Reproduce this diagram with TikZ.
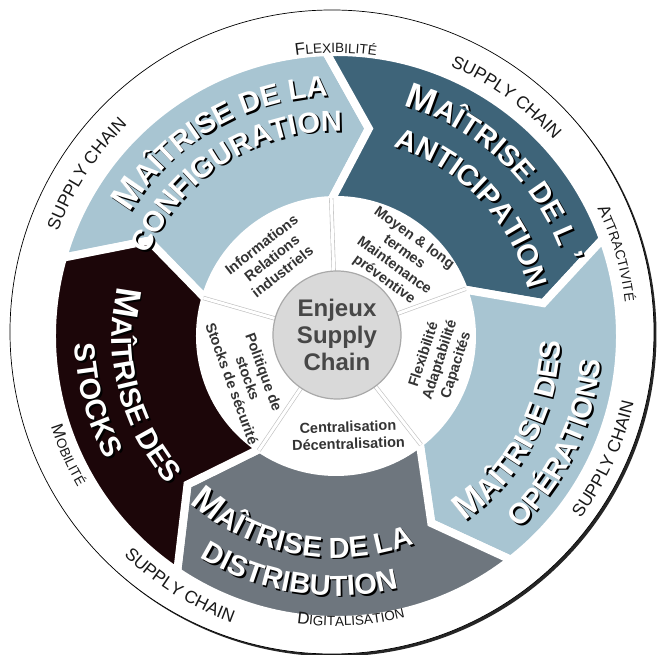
\documentclass[tikz,border=0pt]{standalone}
\usepackage{fontspec}
\setmainfont{Liberation Sans}
\usepackage{xcolor}
\usetikzlibrary{decorations.text}

\definecolor{wlight}{HTML}{A8C5D2}
\definecolor{wteal}{HTML}{3E6479}
\definecolor{wslate}{HTML}{6E767E}
\definecolor{wdark}{HTML}{1C0609}
\definecolor{whub}{HTML}{D9D9D9}
\definecolor{whubline}{HTML}{A9A9A9}
\definecolor{wink}{HTML}{333333}
\definecolor{wdivider}{HTML}{BFBFBF}
\colorlet{tink}{white}
\colorlet{lblink}{black!90}

%% one chevron band of the wheel: #1 first angle, #2 last angle (clockwise), #3 colour
\newcommand{\wheelband}[3]{%
  \filldraw[fill=#3, draw=white, line width=8pt, miter limit=20]
    (#1:284) arc[start angle=#1, end angle=#2, radius=284]
    -- ({#2-11}:210) -- (#2:136)
    arc[start angle=#2, end angle=#1, radius=136]
    -- ({#1-11}:210) -- cycle;}

%% text set on a circle: #1 centre angle, #2 baseline radius, #3 text
\newcommand{\overarc}[3]{%
  \path[decorate, decoration={text along path, text align=center, text={#3}}]
    ({#1+70}:#2) arc[start angle={#1+70}, end angle={#1-70}, radius=#2];}
\newcommand{\underarc}[3]{%
  \path[decorate, decoration={text along path, text align=center, text={#3}}]
    ({#1-70}:#2) arc[start angle={#1-70}, end angle={#1+70}, radius=#2];}

%% white band title with a dark drop shadow
\newcommand{\bandtitle}[4]{%
  \begin{scope}[shift={(1.8,-1.8)}]\colorlet{tink}{black}#1{#2}{#3}{#4}\end{scope}
  \colorlet{tink}{white}#1{#2}{#3}{#4}}

\newcommand{\titleM}{\fontsize{36}{36}\selectfont\bfseries\color{tink}}
\newcommand{\titleS}{\fontsize{29}{29}\selectfont\bfseries\color{tink}}
\newcommand{\lblA}{\fontsize{17.5}{17.5}\selectfont\color{lblink}}
\newcommand{\lblM}{\fontsize{17}{17}\selectfont\color{lblink}}
\newcommand{\lblS}{\fontsize{13.5}{13.5}\selectfont\color{lblink}}

\begin{document}
\begin{tikzpicture}[x=1pt, y=1pt,
  sector/.style={font=\fontsize{14.5}{17}\selectfont\bfseries, text=wink, align=center, inner sep=0pt}]

%% Background
\useasboundingbox (-336,-319) rectangle (321,336);
\fill[white] (-336,-319) rectangle (321,336);

%% Outer disc with its shadow
\fill[black!85] (-1.5,1.5) circle (322);
\filldraw[fill=white, draw=black, line width=0.7pt] (-4,4) circle (322);

%% ── Bands ───────────────────────────────────────────────────────────────
\wheelband{164}{92}{wlight}
\wheelband{92}{20}{wteal}
\wheelband{20}{-52}{wlight}
\wheelband{-52}{-124}{wslate}
\wheelband{-124}{-196}{wdark}

%% ── Inner ring ──────────────────────────────────────────────────────────
\foreach \a in {164,92,20,-52,-124}
  \draw[wdivider, line width=0.6pt, double=white, double distance=3pt] (\a:60) -- (\a:138);

\node[circle, minimum size=128pt, fill=whub, draw=whubline, line width=1.2pt, align=center,
  font=\fontsize{24}{27}\selectfont\bfseries, text=wink!90!white] (hub) at (1,1) {Enjeux\\Supply\\Chain};

\node[sector, rotate=38] (info) at (129.4:101) {Informations\\Relations\\industriels};
\node[sector, rotate=-36] (terme) at (50.7:99.5) {Moyen \& long\\termes\\Maintenance\\préventive};
\node[sector, rotate=72] (flex) at (-13:107) {Flexibilité\\Adaptabilité\\Capacités};
\node[sector, rotate=2] (centr) at (-83:100) {Centralisation\\Décentralisation};
\node[sector, rotate=-70] (polit) at (205.5:97.5) {Politique de\\stocks\\Stocks de sécurité};

%% ── Band titles ─────────────────────────────────────────────────────────
\bandtitle{\overarc}{120.5}{240}{|\titleM|M|\titleS|AÎTRISE DE LA}
\bandtitle{\overarc}{122.5}{205}{|\titleS|CONFIGURATION}
\bandtitle{\overarc}{45.6}{240}{|\titleM|M|\titleS|AÎTRISE DE L ’}
\bandtitle{\overarc}{43.3}{198}{|\titleS|ANTICIPATION}
\bandtitle{\underarc}{-28.3}{225}{|\titleM|M|\titleS|AÎTRISE DES}
\bandtitle{\underarc}{-25.8}{266}{|\titleS|OPÉRATIONS}
\bandtitle{\underarc}{-100.3}{222}{|\titleM|M|\titleS|AÎTRISE DE LA}
\bandtitle{\underarc}{-98.8}{260}{|\titleS|DISTRIBUTION}
\bandtitle{\underarc}{194.4}{224}{|\titleM|M|\titleS|AÎTRISE DES}
\bandtitle{\underarc}{195}{261}{|\titleS|STOCKS}

%% ── Outer ring labels ───────────────────────────────────────────────────
\overarc{147}{297}{|\lblA|SUPPLY CHAIN}
\overarc{90}{283}{|\lblM|F|\lblS|LEXIBILITÉ}
\overarc{54.5}{293}{|\lblA|SUPPLY CHAIN}
\overarc{16.4}{291}{|\lblM|A|\lblS|TTRACTIVITÉ}
\underarc{-24.6}{305}{|\lblA|SUPPLY CHAIN}
\underarc{-87}{290}{|\lblM|D|\lblS|IGITALISATION}
\underarc{-122}{305}{|\lblA|SUPPLY CHAIN}
\underarc{-156}{299}{|\lblM|M|\lblS|OBILITÉ}

\end{tikzpicture}
\end{document}
